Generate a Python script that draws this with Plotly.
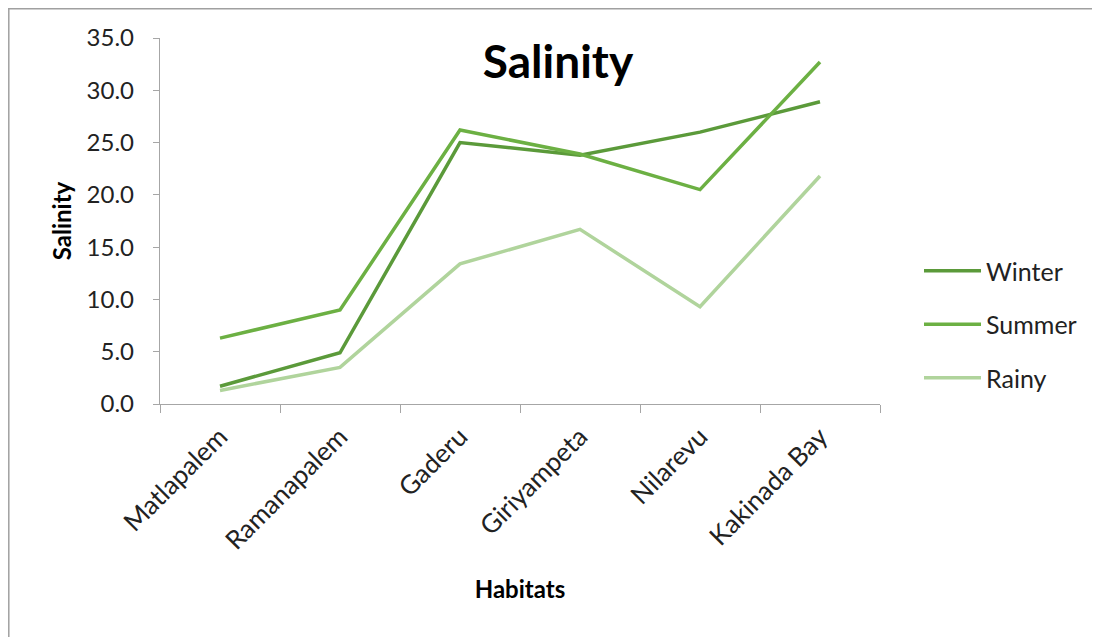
import plotly.graph_objects as go

habitats = ["Matlapalem", "Ramanapalem", "Gaderu", "Giriyampeta", "Nilarevu", "Kakinada Bay"]
winter = [1.7, 4.9, 25.0, 23.8, 26.0, 28.9]
summer = [6.3, 9.0, 26.2, 23.9, 20.5, 32.7]
rainy = [1.3, 3.5, 13.4, 16.7, 9.3, 21.8]
y_ticks = [0, 5, 10, 15, 20, 25, 30, 35]
y_tick_labels = [f"{v:.1f}" for v in y_ticks]

FONT = "Lato, Open Sans, sans-serif"
W, H = 1100, 637
OFF = 8  # page body margin
L, T = 160 - OFF, 38 - OFF
R = W - (880 - OFF)
B = H - (404 - OFF)

fig = go.Figure()
series = [("Winter", winter, "#5b9a3a"), ("Summer", summer, "#6cb043"), ("Rainy", rainy, "#b0d49c")]
for i, (name, vals, col) in enumerate(series):
    fig.add_trace(go.Scatter(x=habitats, y=vals, mode="lines", name=name,
                             line=dict(color=col, width=3.5), legendgroup=f"g{i}"))

pw = W - L - R
ph = H - T - B
def px_x(p):
    return (p - OFF - L) / pw
def px_y(p):
    return (H - B - (p - OFF)) / ph

fig.update_layout(
    width=W, height=H,
    margin=dict(l=L, r=R, t=T, b=B),
    paper_bgcolor="white", plot_bgcolor="white",
    font=dict(family=FONT, size=24, color="#222222"),
    title=dict(text="<b>Salinity</b>", x=(558 - OFF) / W, xanchor="center", xref="container",
               y=1 - (62 - OFF) / H, yanchor="middle", yref="container",
               font=dict(size=46, color="black", family=FONT)),
    showlegend=True,
    legend=dict(x=px_x(919), xanchor="left", y=px_y(248), yanchor="top",
                font=dict(size=25, family=FONT, color="#222222"),
                tracegroupgap=18, itemwidth=57, bgcolor="rgba(0,0,0,0)"),
    xaxis=dict(range=[-0.5, 5.5], showline=True, linecolor="#a6a6a6", linewidth=1.3,
               ticks="outside", ticklen=8, tickcolor="#a6a6a6", tickson="boundaries",
               tickangle=-45, tickfont=dict(size=26, family=FONT, color="#222222"),
               ticklabelstandoff=6,
               showgrid=False, zeroline=False,
               title=dict(text="<b>Habitats</b>", font=dict(size=24, family=FONT, color="black"), standoff=26)),
    yaxis=dict(range=[0, 35], tickvals=y_ticks, ticktext=y_tick_labels,
               showline=True, linecolor="#a6a6a6", linewidth=1.3,
               ticks="outside", ticklen=6, tickcolor="#a6a6a6",
               tickfont=dict(size=24, family=FONT, color="#222222"),
               ticklabelstandoff=14,
               showgrid=False, zeroline=False,
               title=dict(text="<b>Salinity</b>", font=dict(size=24, family=FONT, color="black"), standoff=8)),
)

fig.add_shape(type="line", xref="paper", yref="paper", x0=px_x(8), x1=px_x(1110), y0=px_y(8.8), y1=px_y(8.8),
              line=dict(color="#a0a0a0", width=1.5))
fig.add_shape(type="line", xref="paper", yref="paper", x0=px_x(8.8), x1=px_x(8.8), y0=px_y(8), y1=px_y(645),
              line=dict(color="#a0a0a0", width=1.5))

fig.write_html("out.html")
